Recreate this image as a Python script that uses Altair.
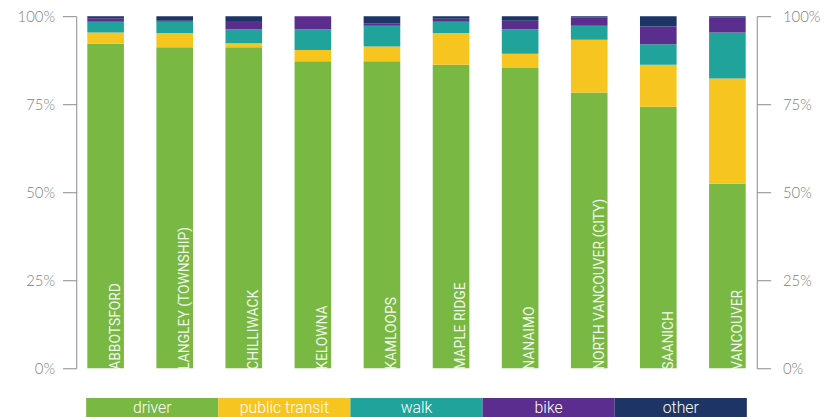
import altair as alt
import pandas as pd

cities = ["ABBOTSFORD", "LANGLEY (TOWNSHIP)", "CHILLIWACK", "KELOWNA", "KAMLOOPS",
          "MAPLE RIDGE", "NANAIMO", "NORTH VANCOUVER (CITY)", "SAANICH", "VANCOUVER"]
modes = ["driver", "public transit", "walk", "bike", "other"]
colors = ["#79b943", "#f7c520", "#1fa39b", "#5b2d8e", "#1d3566"]

driver = [92.2, 91.2, 91.2, 87.2, 87.2, 86.2, 85.3, 78.3, 74.3, 52.4]
transit = [3.2, 4.0, 1.1, 3.2, 4.2, 9.0, 4.0, 15.0, 11.9, 29.9]
walk = [3.0, 3.2, 4.0, 5.9, 5.9, 3.2, 7.0, 4.0, 5.8, 13.1]
bike = [1.0, 0.3, 2.3, 3.7, 0.7, 0.9, 2.4, 2.4, 5.1, 4.3]
other = [0.6, 1.3, 1.4, 0.0, 2.0, 0.7, 1.3, 0.3, 2.9, 0.3]

series = [driver, transit, walk, bike, other]
rows = []
for i, c in enumerate(cities):
    for j, m in enumerate(modes):
        rows.append({"city": c, "mode": m, "order": j, "share": series[j][i]})
df = pd.DataFrame(rows)
labels_df = pd.DataFrame({"city": cities, "base": [0] * len(cities)})
legend_df = pd.DataFrame({"mode": modes})

xscale = alt.Scale(domain=cities, paddingInner=0.47, paddingOuter=0.16)
yscale = alt.Scale(domain=[0, 100], nice=False)
color_scale = alt.Scale(domain=modes, range=colors)

axis_common = dict(values=[0, 25, 50, 75, 100], labelExpr="datum.value + '%'", grid=False,
                   domainColor="#8a8a8a", tickColor="#8a8a8a", tickSize=14,
                   labelFont="Lato", labelFontSize=15, labelFontWeight=300,
                   labelColor="#808080", title=None, domainWidth=1, tickWidth=1)

bars = alt.Chart(df).mark_bar().encode(
    x=alt.X("city:N", scale=xscale, axis=None, sort=cities),
    y=alt.Y("share:Q", stack="zero", scale=yscale,
            axis=alt.Axis(orient="left", labelPadding=8, **axis_common)),
    color=alt.Color("mode:N", scale=color_scale, legend=None),
    order=alt.Order("order:Q", sort="ascending"),
)

texts = alt.Chart(labels_df).mark_text(
    angle=270, align="left", baseline="alphabetic", dy=-4, dx=-1.5,
    font="Roboto", fontSize=14, color="white", opacity=0.9
).encode(
    x=alt.X("city:N", scale=xscale, axis=None, sort=cities, bandPosition=1),
    y=alt.Y("base:Q", scale=yscale,
            axis=alt.Axis(orient="right", labelPadding=12, **axis_common)),
    text="city:N",
)

top = alt.layer(bars, texts).resolve_axis(y="independent").properties(width=688, height=356)

legend_x = alt.Scale(domain=modes, paddingInner=0, paddingOuter=0.075)
strip = alt.Chart(legend_df).mark_bar().encode(
    x=alt.X("mode:N", scale=legend_x, axis=None, sort=modes),
    color=alt.Color("mode:N", scale=color_scale, legend=None),
)
strip_text = alt.Chart(legend_df).mark_text(
    font="Roboto", fontSize=16, fontWeight=300, color="white", baseline="middle"
).encode(
    x=alt.X("mode:N", scale=legend_x, axis=None, sort=modes),
    text="mode:N",
)
legend = alt.layer(strip, strip_text).properties(width=688, height=20)

chart = alt.vconcat(top, legend, spacing=22).properties(
    padding={"left": 9, "top": -1, "right": 5, "bottom": 0}
).configure_view(stroke=None)

chart.save("out.html", embed_options={"renderer": "svg", "actions": False})
